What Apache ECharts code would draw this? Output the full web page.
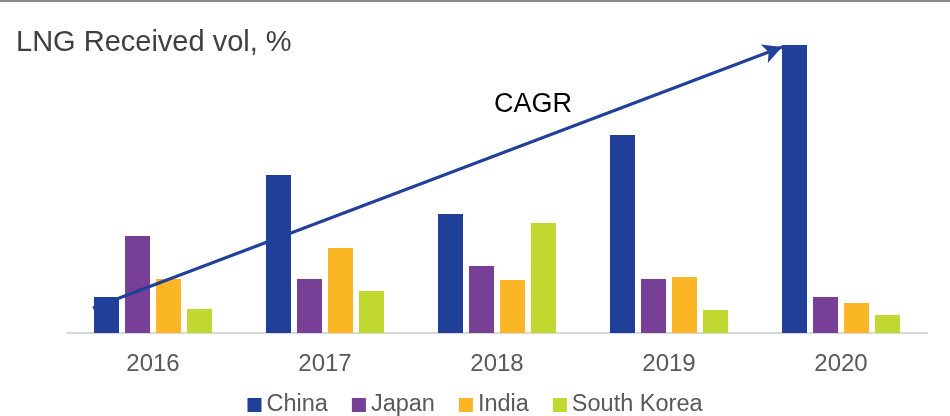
<!DOCTYPE html>
<html>
<head>
<meta charset="utf-8">
<script src="https://cdn.jsdelivr.net/npm/echarts@6/dist/echarts.min.js"></script>
<style>
  html, body { margin: 0; padding: 0; background: #fff; }
  #chart { width: 950px; height: 416px; }
</style>
</head>
<body>
<div id="chart"></div>
<script>
// categories and series (relative received volume)
const years = ["2016", "2017", "2018", "2019", "2020"];
const china = [36, 158, 119, 198, 288];
const japan = [97, 54, 67, 54, 36];
const india = [54, 85, 53, 56, 30];
const southKorea = [24, 42, 110, 23, 18];

// CAGR arrow, in (category position, value) units
const cagrStart = [-0.349, 25];
const cagrEnd = [3.657, 286];

const colors = ["#1F3F98", "#773F95", "#FBB625", "#C1D830"];

let chart = echarts.init(document.getElementById("chart"));

function barSeries(name, data) {
  return {
    name: name,
    type: "bar",
    data: data,
    barWidth: 25,
    barGap: "24%",
    xAxisIndex: 0
  };
}

chart.setOption({
  animation: false,
  color: colors,
  title: {
    text: "LNG Received vol, %",
    left: 11,
    top: 23,
    textStyle: {
      fontFamily: "Liberation Sans, Arial, sans-serif",
      fontSize: 29,
      fontWeight: "normal",
      color: "#404040"
    }
  },
  legend: {
    top: 388,
    left: "center",
    icon: "rect",
    itemWidth: 14,
    itemHeight: 14,
    itemGap: 24,
    textStyle: {
      fontFamily: "Liberation Sans, Arial, sans-serif",
      fontSize: 23.5,
      color: "#595959"
    },
    data: ["China", "Japan", "India", "South Korea"]
  },
  grid: {
    left: 67,
    right: 23,
    top: 45,
    bottom: 83
  },
  xAxis: [
    {
      type: "category",
      data: years,
      axisLine: { lineStyle: { color: "#D9D9D9", width: 2 } },
      axisTick: { show: false },
      axisLabel: {
        margin: 19,
        fontFamily: "Liberation Sans, Arial, sans-serif",
        fontSize: 24,
        color: "#595959"
      }
    },
    {
      type: "value",
      min: -0.5,
      max: 4.5,
      show: false
    }
  ],
  yAxis: {
    type: "value",
    min: 0,
    max: 288,
    show: false
  },
  series: [
    barSeries("China", china),
    barSeries("Japan", japan),
    barSeries("India", india),
    barSeries("South Korea", southKorea),
    {
      name: "CAGR",
      type: "line",
      xAxisIndex: 1,
      data: [],
      markLine: {
        silent: true,
        symbol: ["none", "arrow"],
        symbolSize: [15, 19],
        label: { show: false },
        lineStyle: { color: "#21409A", width: 3, type: "solid" },
        data: [[{ coord: cagrStart }, { coord: cagrEnd }]]
      }
    }
  ],
  graphic: [
    {
      type: "line",
      shape: { x1: 0, y1: 1, x2: 950, y2: 1 },
      style: { stroke: "#8A8A8A", lineWidth: 2 }
    },
    {
      type: "text",
      x: 533,
      y: 105,
      style: {
        text: "CAGR",
        fontFamily: "Liberation Sans, Arial, sans-serif",
        fontSize: 27,
        fill: "#000",
        textAlign: "center",
        textVerticalAlign: "middle"
      }
    }
  ]
});
</script>
</body>
</html>
